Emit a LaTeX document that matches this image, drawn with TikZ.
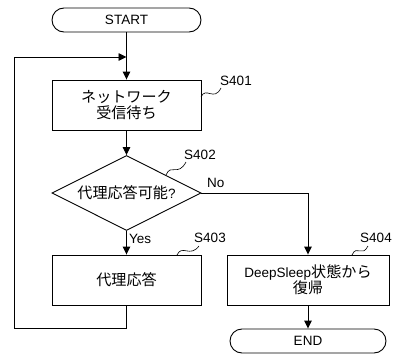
\documentclass[tikz,border=0pt]{standalone}
\usepackage{fontspec}
\setmainfont{Liberation Sans}
\newfontfamily\jp[Scale=1.12]{Noto Sans CJK JP}
\usetikzlibrary{shapes.geometric,arrows.meta}
\begin{document}
\begin{tikzpicture}[x=1pt,y=-1pt,
  every node/.style={font=\fontsize{13.5}{18}\selectfont},
  line/.style={line width=0.9pt},
  arr/.style={line, -{Triangle[length=8pt,width=7.5pt]}},
  proc/.style={draw, line width=0.9pt, minimum height=50pt, align=center, inner sep=0pt},
  term/.style={draw, line width=0.9pt, rounded corners=12pt, minimum height=24pt, inner sep=0pt},
  lbl/.style={inner sep=1pt},
  wave/.style={line width=0.6pt}]
\useasboundingbox (0,0) rectangle (400,356);
\node[term, minimum width=149pt] (start) at (126.5,20) {START};
\node[proc, minimum width=149pt] (s401) at (126.5,105) {\jp ネットワーク\\[-2pt]\jp 受信待ち};
\node[draw, line width=0.9pt, diamond, minimum width=149pt, minimum height=75pt, inner sep=0pt] (d) at (126.5,193) {};
\node (dt) at (d.center) {{\jp 代理応答可能}?};
\node[proc, minimum width=149pt] (s403) at (126.5,280) {\jp 代理応答};
\node[proc, minimum width=162pt] (s404) at (308,280) {DeepSleep{\jp 状態から}\\[-2pt]\jp 復帰};
\node[term, minimum width=156pt] (end) at (308,341) {END};
\coordinate (j) at (126.5,57);
\coordinate (lt) at (14,57);
\coordinate (lb) at (14,328);
\draw[arr] (start.south) -- (s401.north);
\draw[arr] (s403.south) |- (lb) -- (lt) -- (j);
\draw[arr] (s401.south) -- (d.north);
\draw[arr] (d.south) -- (s403.north);
\draw[arr] (d.east) -| (s404.north);
\draw[arr] (s404.south) -- (end.north);
\node[lbl, anchor=west] (yes) at (128,239) {Yes};
\node[lbl, anchor=west] (no) at (206,183) {No};
\node[lbl] (l401) at (236,81) {S401};
\node[lbl] (l402) at (200,155) {S402};
\node[lbl] (l403) at (210,238) {S403};
\node[lbl] (l404) at (376,238) {S404};
\draw[wave] (201,97) .. controls (206,86) and (214,102) .. (221,88);
\draw[wave] (166,175) .. controls (171,163) and (178,177) .. (186,162);
\draw[wave] (177,255) .. controls (182,244) and (190,258) .. (199,246);
\draw[wave] (352,255) .. controls (357,244) and (362,258) .. (368,246);
\end{tikzpicture}
\end{document}
